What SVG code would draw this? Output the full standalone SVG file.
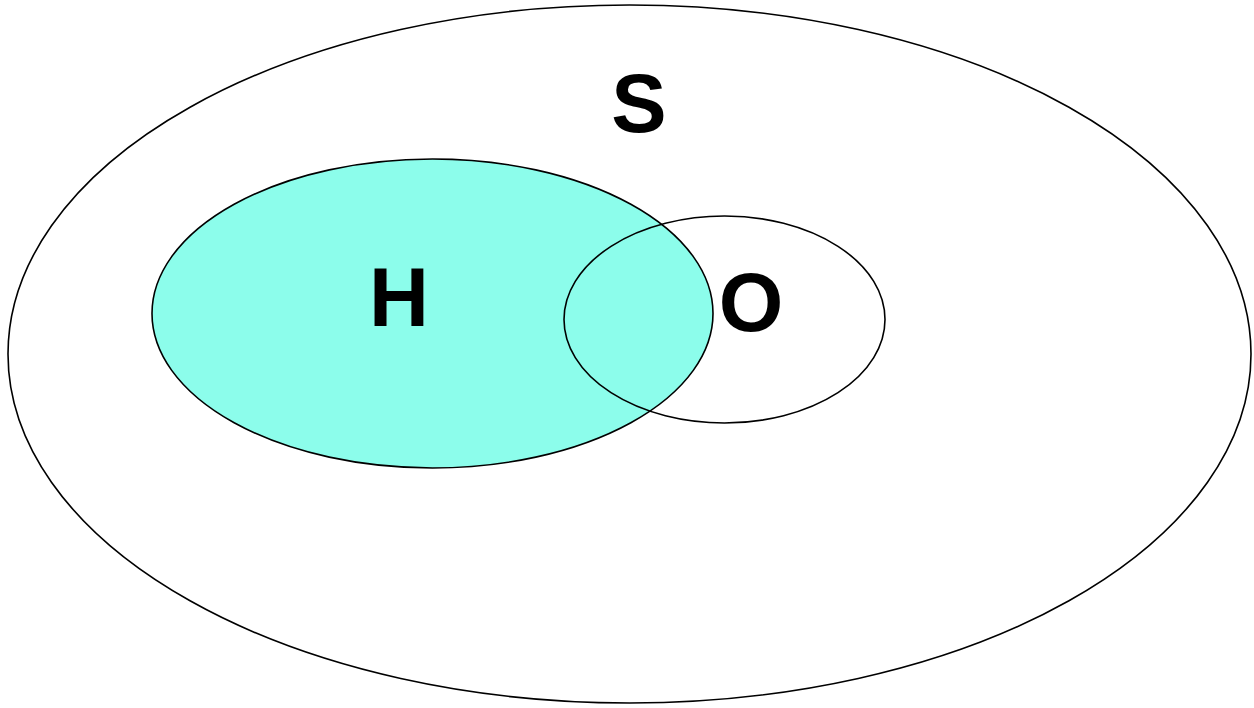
<svg xmlns="http://www.w3.org/2000/svg" width="1254" height="708" viewBox="0 0 1254 708">
<style>
.e{stroke:#000;stroke-width:1.6}
.t{font-family:"Liberation Sans",Arial,sans-serif;font-weight:bold;font-size:83px;fill:#000;text-anchor:middle}
</style>
<rect width="1254" height="708" fill="#fff"/>
<g id="S">
<ellipse class="e" cx="629.5" cy="354" rx="621.5" ry="349" fill="#fff"/>
<text class="t" x="639" y="132">S</text>
</g>
<g id="H">
<ellipse class="e" cx="432.5" cy="313.5" rx="280.5" ry="154.5" fill="#8cfdeb"/>
<text class="t" x="399" y="326">H</text>
</g>
<g id="O">
<ellipse class="e" cx="724.5" cy="319.5" rx="160.5" ry="103.5" fill="none"/>
<text class="t" x="751" y="331">O</text>
</g>
<g id="connectors"/>
</svg>
